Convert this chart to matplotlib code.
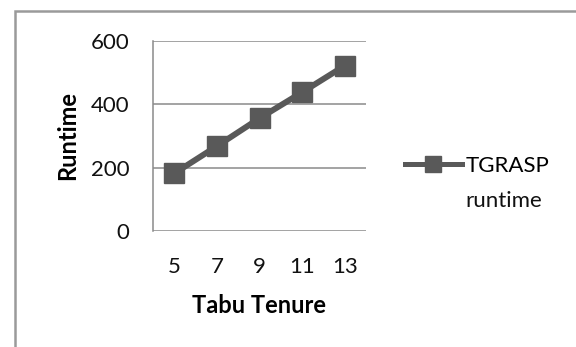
import matplotlib.pyplot as plt
from matplotlib.patches import Rectangle

categories = ["5", "7", "9", "11", "13"]
runtime = [182, 268, 356, 438, 522]
yticks = [0, 200, 400, 600]
series_name = "TGRASP"
series_name_2 = "runtime"

plt.rcParams['font.family'] = ['Lato', 'DejaVu Sans']

fig = plt.figure(figsize=(5.76, 3.47), dpi=100)
ax = fig.add_axes([153 / 576, 1 - 231 / 347, 213 / 576, 190 / 347])

x = list(range(len(categories)))
line, = ax.plot(x, runtime, color="#595959", linewidth=4.3, marker="s",
                markersize=15, markerfacecolor="#595959",
                markeredgecolor="#595959", label=series_name, zorder=3)

ax.set_xlim(-0.5, len(categories) - 0.5)
ax.set_ylim(0, 600)
ax.set_xticks(x)
ax.set_xticklabels(categories)
ax.set_yticks(yticks)
ax.grid(axis="y", color="#8a8a8a", linewidth=1.1)
ax.set_axisbelow(True)
for side in ["top", "right", "bottom"]:
    ax.spines[side].set_visible(False)
ax.spines["left"].set_color("#8a8a8a")
ax.spines["left"].set_linewidth(1.1)
ax.tick_params(length=0, labelsize=16, colors="#111111")
ax.tick_params(axis="x", pad=19)
ax.tick_params(axis="y", pad=17)

ax.set_xlabel("Tabu Tenure", fontsize=17, fontweight="bold", labelpad=12)
ax.set_ylabel("Runtime", fontsize=17, fontweight="bold", labelpad=8)

leg = fig.legend(handles=[line], loc="center left",
                 bbox_to_anchor=(405 / 576, 1 - 166 / 347), frameon=False,
                 fontsize=16, handlelength=2.55, handletextpad=0.2,
                 borderpad=0, borderaxespad=0)
h = leg.legend_handles[0]
h.set_markersize(12)
h.set_linewidth(3.6)
fig.text(465 / 576, 1 - 207 / 347, series_name_2, fontsize=16,
         ha="left", va="baseline", color="#111111")

# outer chart border (extends past right/bottom edge)
fig.patches.append(Rectangle((14.5 / 576, -0.1), 1.2, 1 - 11 / 347 + 0.1,
                             transform=fig.transFigure, fill=False,
                             edgecolor="#9a9a9a", linewidth=1.8))

fig.savefig("out.png", dpi=100)
